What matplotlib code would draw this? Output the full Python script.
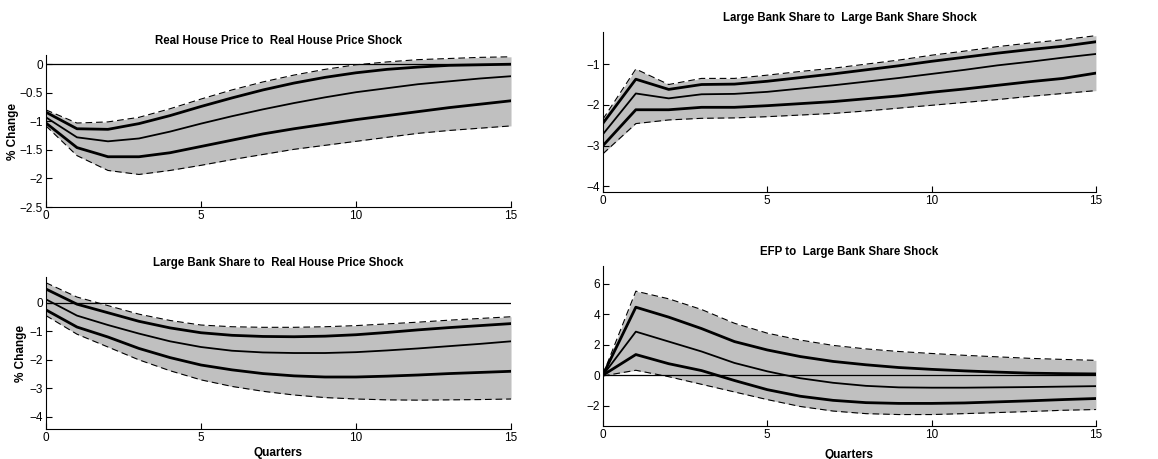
import matplotlib
matplotlib.use("Agg")
import matplotlib.pyplot as plt

quarters = list(range(16))

# Real House Price to Real House Price Shock
rhp_hi = [-0.80, -1.03, -1.01, -0.93, -0.78, -0.61, -0.45, -0.31, -0.19, -0.09, -0.01, 0.04, 0.08, 0.10, 0.12, 0.13]
rhp_up = [-0.84, -1.13, -1.14, -1.04, -0.90, -0.74, -0.59, -0.45, -0.33, -0.23, -0.15, -0.09, -0.05, -0.02, -0.01, 0.0]
rhp_med = [-0.93, -1.28, -1.35, -1.30, -1.18, -1.04, -0.91, -0.79, -0.68, -0.58, -0.49, -0.42, -0.35, -0.30, -0.25, -0.21]
rhp_lo = [-1.03, -1.46, -1.62, -1.62, -1.55, -1.44, -1.33, -1.22, -1.13, -1.05, -0.97, -0.90, -0.83, -0.76, -0.70, -0.64]
rhp_lw = [-1.08, -1.60, -1.86, -1.93, -1.86, -1.77, -1.67, -1.58, -1.49, -1.42, -1.35, -1.28, -1.21, -1.16, -1.12, -1.08]

# Large Bank Share to Large Bank Share Shock
lbs_hi = [-2.35, -1.12, -1.50, -1.35, -1.35, -1.27, -1.18, -1.10, -1.00, -0.90, -0.78, -0.68, -0.57, -0.48, -0.40, -0.30]
lbs_up = [-2.45, -1.37, -1.62, -1.50, -1.49, -1.42, -1.33, -1.24, -1.14, -1.04, -0.93, -0.83, -0.73, -0.64, -0.56, -0.45]
lbs_med = [-2.72, -1.72, -1.84, -1.74, -1.73, -1.68, -1.60, -1.52, -1.43, -1.34, -1.24, -1.14, -1.03, -0.94, -0.84, -0.75]
lbs_lo = [-3.00, -2.12, -2.12, -2.06, -2.06, -2.02, -1.97, -1.92, -1.85, -1.78, -1.69, -1.61, -1.52, -1.43, -1.35, -1.22]
lbs_lw = [-3.20, -2.46, -2.37, -2.33, -2.32, -2.29, -2.25, -2.21, -2.15, -2.08, -2.01, -1.94, -1.87, -1.79, -1.72, -1.65]

# Large Bank Share to Real House Price Shock
lbr_hi = [0.70, 0.20, -0.10, -0.40, -0.62, -0.78, -0.84, -0.86, -0.86, -0.84, -0.80, -0.74, -0.68, -0.61, -0.55, -0.49]
lbr_up = [0.48, -0.05, -0.35, -0.65, -0.88, -1.05, -1.14, -1.18, -1.19, -1.17, -1.12, -1.04, -0.95, -0.87, -0.80, -0.73]
lbr_med = [0.12, -0.45, -0.78, -1.08, -1.35, -1.55, -1.68, -1.74, -1.76, -1.76, -1.73, -1.67, -1.60, -1.52, -1.44, -1.35]
lbr_lo = [-0.25, -0.85, -1.20, -1.60, -1.92, -2.18, -2.35, -2.48, -2.56, -2.60, -2.60, -2.57, -2.53, -2.48, -2.44, -2.40]
lbr_lw = [-0.45, -1.10, -1.55, -2.00, -2.38, -2.70, -2.93, -3.10, -3.23, -3.32, -3.37, -3.40, -3.41, -3.40, -3.39, -3.37]

# EFP to Large Bank Share Shock
efp_hi = [0.05, 5.50, 5.00, 4.30, 3.40, 2.75, 2.30, 1.95, 1.72, 1.55, 1.42, 1.30, 1.20, 1.10, 1.03, 0.97]
efp_up = [0.02, 4.45, 3.80, 3.05, 2.20, 1.65, 1.22, 0.90, 0.68, 0.50, 0.38, 0.28, 0.20, 0.13, 0.10, 0.08]
efp_med = [0.0, 2.85, 2.20, 1.55, 0.80, 0.25, -0.20, -0.50, -0.70, -0.80, -0.82, -0.82, -0.80, -0.78, -0.75, -0.72]
efp_lo = [0.0, 1.35, 0.75, 0.30, -0.35, -0.95, -1.38, -1.65, -1.80, -1.85, -1.85, -1.82, -1.75, -1.68, -1.60, -1.53]
efp_lw = [-0.05, 0.32, -0.10, -0.60, -1.10, -1.60, -2.05, -2.35, -2.52, -2.58, -2.58, -2.52, -2.45, -2.38, -2.30, -2.25]

plt.rcParams["font.family"] = ["Liberation Sans", "DejaVu Sans"]

fig = plt.figure(figsize=(11.58, 4.59), dpi=100)

# rect, title, bands, ylim, yticks, zero line, ylabel x (axes coords), xlabel pad
panels = [
    ([0.0397, 0.549, 0.4016, 0.331], "Real House Price to  Real House Price Shock",
     (rhp_hi, rhp_up, rhp_med, rhp_lo, rhp_lw), (-2.5, 0.16), [-2.5, -2, -1.5, -1, -0.5, 0], True, -0.059, None),
    ([0.5207, 0.5817, 0.4257, 0.3486], "Large Bank Share to  Large Bank Share Shock",
     (lbs_hi, lbs_up, lbs_med, lbs_lo, lbs_lw), (-4.14, -0.21), [-4, -3, -2, -1], False, None, None),
    ([0.0397, 0.0654, 0.4016, 0.331], "Large Bank Share to  Real House Price Shock",
     (lbr_hi, lbr_up, lbr_med, lbr_lo, lbr_lw), (-4.42, 0.9), [-4, -3, -2, -1, 0], True, -0.041, 2.5),
    ([0.5207, 0.0719, 0.4257, 0.3486], "EFP to  Large Bank Share Shock",
     (efp_hi, efp_up, efp_med, efp_lo, efp_lw), (-3.33, 7.15), [-2, 0, 2, 4, 6], True, None, 6),
]

for rect, title, (hi, up, med, lo, lw), ylim, yticks, zero, ylab_x, xpad in panels:
    ax = fig.add_axes(rect)
    ax.fill_between(quarters, lw, hi, color="#c0c0c0", linewidth=0)
    if zero:
        ax.axhline(0, color="black", linewidth=0.9)
    ax.plot(quarters, hi, color="black", linestyle="--", linewidth=0.8, dashes=(6, 3.5))
    ax.plot(quarters, lw, color="black", linestyle="--", linewidth=0.8, dashes=(6, 3.5))
    ax.plot(quarters, up, color="black", linewidth=2.0)
    ax.plot(quarters, lo, color="black", linewidth=2.0)
    ax.plot(quarters, med, color="black", linewidth=1.3)
    ax.set_xlim(0, 15)
    ax.set_ylim(*ylim)
    ax.set_xticks([0, 5, 10, 15])
    ax.set_yticks(yticks)
    ax.set_yticklabels([f"{t:g}".replace("-", "\u2212") for t in yticks])
    for s in ["top", "right"]:
        ax.spines[s].set_visible(False)
    ax.spines["left"].set_linewidth(0.8)
    ax.spines["bottom"].set_linewidth(0.8)
    ax.tick_params(direction="in", length=4, width=0.8, labelsize=8.5, pad=2)
    ax.set_title(title, fontsize=8.3, fontweight="bold", pad=8)
    if ylab_x is not None:
        ax.set_ylabel("% Change", fontsize=8.5, fontweight="bold")
        ax.yaxis.set_label_coords(ylab_x, 0.5)
    if xpad is not None:
        ax.set_xlabel("Quarters", fontsize=8.5, fontweight="bold", labelpad=xpad)

fig.savefig("out.png", dpi=100)
